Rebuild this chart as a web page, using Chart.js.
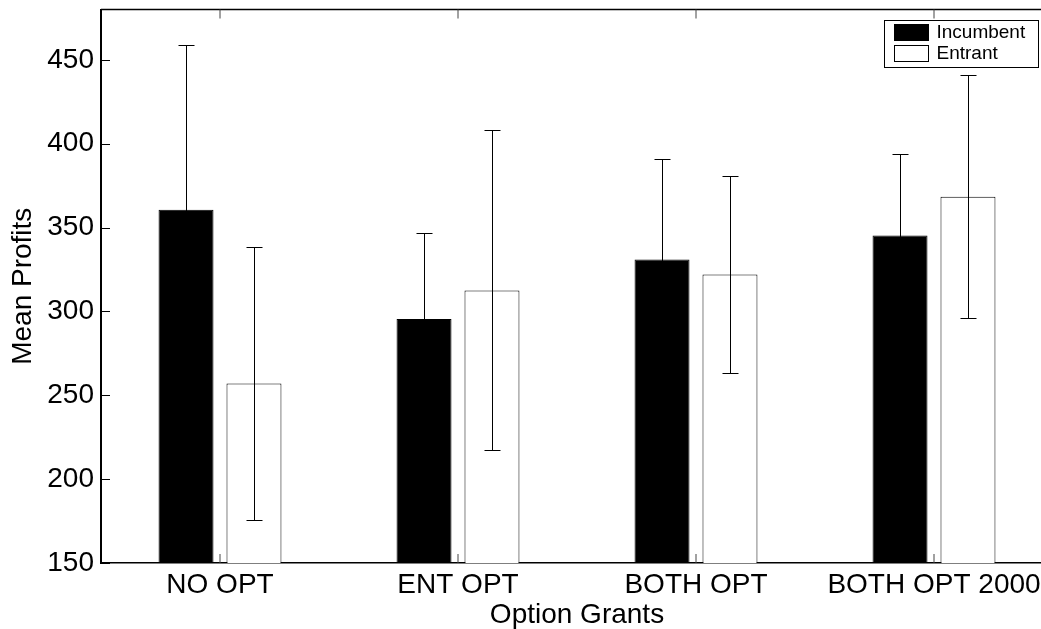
<!DOCTYPE html>
<html><head><meta charset="utf-8">
<script src="https://cdn.jsdelivr.net/npm/chart.js@4.4.1/dist/chart.umd.min.js"></script>
<style>
html,body{margin:0;padding:0;overflow:hidden;background:#fff;width:1041px;height:629px}
#wrap{width:1060px;height:629px;position:relative}
</style></head><body>
<div id="wrap"><canvas id="c" width="1060" height="629"></canvas></div>
<script>
const categories = ['NO OPT', 'ENT OPT', 'BOTH OPT', 'BOTH OPT 2000'];
const incumbentMeans = [360.6, 295.4, 331.0, 345.3];
const incumbentErrors = [98.5, 51.3, 60.0, 48.7];
const entrantMeans = [257.0, 312.5, 322.0, 368.4];
const entrantErrors = [81.4, 95.4, 58.9, 72.6];
const yTickValues = [150, 200, 250, 300, 350, 400, 450];
const yMin = 150, yMax = 480;
const FONT = "'Liberation Sans', Arial, Helvetica, sans-serif";
const errorsByDataset = [incumbentErrors, entrantErrors];

function seg(ctx, x1, y1, x2, y2) { ctx.beginPath(); ctx.moveTo(x1, y1); ctx.lineTo(x2, y2); ctx.stroke(); }

const errorBarPlugin = {
  id: 'errorBars',
  afterDatasetsDraw(chart) {
    const {ctx, scales: {y}} = chart;
    ctx.save();
    ctx.strokeStyle = '#000';
    ctx.lineWidth = 1;
    chart.data.datasets.forEach((ds, di) => {
      const meta = chart.getDatasetMeta(di);
      meta.data.forEach((bar, i) => {
        const m = ds.data[i], e = errorsByDataset[di][i];
        const x = Math.round(bar.x) + 0.5;
        const yt = Math.round(y.getPixelForValue(m + e)) + 0.5;
        const yb = Math.round(y.getPixelForValue(m - e)) + 0.5;
        seg(ctx, x, yt, x, yb);
        seg(ctx, x - 8, yt, x + 8, yt);
        seg(ctx, x - 8, yb, x + 8, yb);
      });
    });
    ctx.restore();
  }
};

const framePlugin = {
  id: 'frame',
  afterDatasetsDraw(chart) {
    const {ctx, chartArea: a, scales: {x, y}} = chart;
    ctx.save();
    ctx.strokeStyle = '#000';
    ctx.lineWidth = 1.5;
    ctx.beginPath();
    ctx.moveTo(a.left, a.top); ctx.lineTo(a.right, a.top); ctx.lineTo(a.right, a.bottom);
    ctx.stroke();
    ctx.lineWidth = 1;
    yTickValues.forEach(v => {
      const py = Math.round(y.getPixelForValue(v)) + 0.5;
      seg(ctx, a.left, py, a.left + 9, py);
      seg(ctx, a.right, py, a.right - 9, py);
    });
    ctx.strokeStyle = '#444';
    categories.forEach((c, i) => {
      const px = Math.round(x.getPixelForValue(i));
      seg(ctx, px, a.top, px, a.top + 9);
      seg(ctx, px, a.bottom, px, a.bottom - 9);
    });
    ctx.restore();
  }
};

const legendPlugin = {
  id: 'boxLegend',
  afterDraw(chart) {
    const {ctx, chartArea: a} = chart;
    const w = 154, h = 47;
    const left = Math.round(a.right - 15 - w) + 0.5, top = Math.round(a.top + 10) + 0.5;
    ctx.save();
    ctx.fillStyle = '#fff';
    ctx.fillRect(left, top, w, h);
    ctx.strokeStyle = '#000';
    ctx.lineWidth = 1;
    ctx.strokeRect(left, top, w, h);
    ctx.font = '19px ' + FONT;
    ctx.textBaseline = 'middle';
    ctx.textAlign = 'left';
    chart.data.datasets.forEach((ds, i) => {
      const sy = top + 4 + i * 21;
      ctx.fillStyle = ds.backgroundColor;
      ctx.fillRect(left + 10, sy, 34, 16);
      ctx.strokeStyle = '#000';
      ctx.strokeRect(left + 10, sy, 34, 16);
      ctx.fillStyle = '#000';
      ctx.fillText(ds.label, left + 52, sy + 8);
    });
    ctx.restore();
  }
};

new Chart(document.getElementById('c'), {
  type: 'bar',
  data: {
    labels: categories,
    datasets: [
      {label: 'Incumbent', data: incumbentMeans, backgroundColor: '#000', borderColor: '#000', borderWidth: 1},
      {label: 'Entrant', data: entrantMeans, backgroundColor: '#fff', borderColor: '#000', borderWidth: 1}
    ]
  },
  options: {
    responsive: false,
    animation: false,
    devicePixelRatio: 1,
    categoryPercentage: 0.571,
    barPercentage: 0.809,
    layout: {padding: {top: 9.5, right: 7, bottom: 0, left: 0}},
    plugins: {legend: {display: false}, tooltip: {enabled: false}, title: {display: false}},
    scales: {
      x: {
        grid: {display: false, drawTicks: false},
        border: {display: true, color: '#000', width: 1.5},
        ticks: {color: '#000', font: {family: FONT, size: 28}, padding: 5, maxRotation: 0, autoSkip: false},
        title: {display: true, text: 'Option Grants', color: '#000', font: {family: FONT, size: 28, lineHeight: 1}, padding: 0},
        afterFit(s) { s.height = 66; s.paddingLeft = 0; s.paddingRight = 0; }
      },
      y: {
        min: yMin, max: yMax,
        grid: {display: false, drawTicks: false},
        border: {display: true, color: '#000', width: 2},
        ticks: {color: '#000', font: {family: FONT, size: 28}, padding: 7},
        afterBuildTicks(s) { s.ticks = yTickValues.map(v => ({value: v})); },
        title: {display: true, text: 'Mean Profits', color: '#000', font: {family: FONT, size: 28, lineHeight: 1.2}, padding: {top: 6, bottom: 0}},
        afterFit(s) { s.width = 101; s.paddingTop = 0; s.paddingBottom = 0; }
      }
    }
  },
  plugins: [errorBarPlugin, framePlugin, legendPlugin]
});
</script>
</body></html>
